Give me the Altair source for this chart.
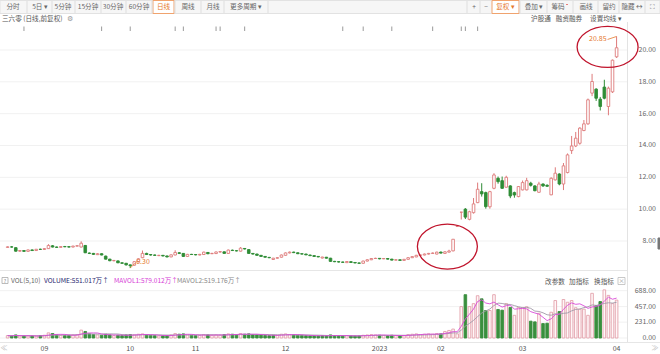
import altair as alt
import pandas as pd

# ---------------- data ----------------
opens = [7.60, 7.63, 7.58, 7.36, 7.40, 7.35, 7.44, 7.40, 7.48, 7.47,
         7.52, 7.70, 7.62, 7.60, 7.65, 7.64, 7.62, 7.68, 7.62, 7.72,
         7.24, 7.22, 7.14, 7.20, 7.05, 6.86, 6.76, 6.75, 6.63, 6.60,
         6.50, 6.48, 6.70, 6.95, 7.22, 7.15, 7.12, 7.08, 7.10, 7.06,
         7.00, 7.12, 7.26, 7.22, 7.03, 7.16, 7.15, 7.12, 7.15, 7.28,
         7.20, 7.21, 7.31, 7.32, 7.22, 7.42, 7.39, 7.36, 7.53, 7.46,
         7.22, 7.18, 7.10, 7.03, 6.97, 6.84, 6.92, 6.98, 7.10, 7.25,
         7.30, 7.26, 7.20, 7.18, 7.12, 7.08, 7.03, 6.93, 6.98, 6.92,
         6.72, 6.70, 6.68, 6.64, 6.70, 6.65, 6.62, 6.60, 6.74, 6.82,
         6.90, 6.91, 6.88, 6.90, 6.86, 6.80, 6.82, 6.78, 6.85, 6.95,
         7.00, 7.10, 7.12, 7.18, 7.22, 7.18, 7.30, 7.22, 7.30, 7.38,
         8.92, 9.81, 10.00, 9.36, 9.78, 10.41, 11.10, 11.04, 10.15, 11.31,
         11.94, 11.79, 11.38, 11.46, 11.04, 10.79, 11.21, 11.21, 11.63, 11.46,
         11.06, 11.58, 11.50, 10.90, 11.84, 12.21, 11.58, 12.30, 13.68, 13.97,
         14.14, 14.94, 15.36, 17.29, 17.54, 16.91, 17.67, 16.45, 17.37, 19.57]
closes = [7.63, 7.62, 7.36, 7.40, 7.35, 7.44, 7.40, 7.48, 7.47, 7.52,
          7.72, 7.62, 7.60, 7.65, 7.64, 7.62, 7.68, 7.70, 7.86, 7.26,
          7.22, 7.16, 7.20, 7.12, 6.86, 6.76, 6.78, 6.63, 6.60, 6.50,
          6.45, 6.70, 6.88, 7.22, 7.15, 7.12, 7.10, 7.10, 7.06, 7.00,
          7.13, 7.28, 7.22, 7.03, 7.16, 7.15, 7.13, 7.16, 7.30, 7.20,
          7.22, 7.31, 7.33, 7.22, 7.43, 7.40, 7.38, 7.55, 7.50, 7.22,
          7.18, 7.10, 7.03, 6.98, 6.95, 6.92, 6.95, 7.12, 7.25, 7.30,
          7.27, 7.20, 7.18, 7.13, 7.08, 7.03, 7.00, 6.99, 6.92, 6.72,
          6.70, 6.68, 6.66, 6.71, 6.65, 6.62, 6.60, 6.74, 6.82, 6.90,
          6.91, 6.88, 6.90, 6.86, 6.80, 6.82, 6.78, 6.85, 6.95, 7.02,
          7.10, 7.12, 7.18, 7.22, 7.24, 7.30, 7.24, 7.32, 7.37, 8.11,
          8.92, 9.81, 9.50, 9.84, 10.33, 11.25, 10.96, 10.16, 11.10, 12.15,
          11.73, 11.31, 12.00, 10.83, 10.89, 11.42, 11.67, 11.79, 11.50, 11.16,
          11.58, 11.46, 11.44, 11.94, 12.26, 11.58, 12.72, 13.41, 13.97, 14.46,
          15.09, 15.36, 16.87, 18.02, 16.97, 16.45, 16.97, 17.60, 19.36, 20.14]
highs = [7.66, 7.68, 7.60, 7.43, 7.42, 7.46, 7.47, 7.50, 7.52, 7.55,
         7.80, 7.74, 7.65, 7.67, 7.69, 7.67, 7.70, 7.74, 7.98, 7.75,
         7.28, 7.25, 7.24, 7.22, 7.08, 6.88, 6.80, 6.77, 6.65, 6.62,
         6.52, 6.72, 6.92, 7.40, 7.26, 7.18, 7.15, 7.13, 7.12, 7.08,
         7.16, 7.42, 7.30, 7.24, 7.19, 7.19, 7.18, 7.19, 7.33, 7.30,
         7.26, 7.34, 7.36, 7.34, 7.46, 7.46, 7.42, 7.62, 7.56, 7.48,
         7.24, 7.20, 7.12, 7.05, 7.00, 6.94, 6.98, 7.15, 7.28, 7.34,
         7.33, 7.28, 7.22, 7.20, 7.14, 7.10, 7.05, 7.01, 7.00, 6.94,
         6.75, 6.73, 6.70, 6.73, 6.72, 6.67, 6.64, 6.76, 6.85, 6.93,
         6.95, 6.93, 6.93, 6.92, 6.88, 6.85, 6.84, 6.87, 6.98, 7.05,
         7.13, 7.15, 7.21, 7.25, 7.28, 7.33, 7.34, 7.36, 7.45, 8.11,
         8.92, 9.81, 10.07, 9.90, 10.70, 11.67, 11.63, 11.10, 11.15, 12.26,
         12.05, 12.05, 12.10, 11.50, 11.10, 11.45, 11.80, 11.97, 11.72, 11.50,
         11.72, 11.62, 11.56, 12.00, 12.63, 12.25, 12.90, 13.50, 14.60, 14.85,
         15.15, 15.60, 16.95, 18.50, 17.60, 17.05, 18.13, 17.70, 19.40, 20.85]
lows = [7.58, 7.58, 7.33, 7.32, 7.31, 7.33, 7.37, 7.38, 7.44, 7.45,
        7.50, 7.60, 7.56, 7.58, 7.61, 7.59, 7.60, 7.66, 7.60, 7.24,
        7.18, 7.13, 7.12, 7.10, 6.84, 6.73, 6.72, 6.61, 6.57, 6.46,
        6.30, 6.45, 6.66, 6.92, 7.12, 7.08, 7.06, 7.05, 7.03, 6.97,
        6.98, 7.10, 7.18, 7.00, 7.01, 7.12, 7.10, 7.10, 7.13, 7.17,
        7.18, 7.19, 7.27, 7.20, 7.20, 7.37, 7.35, 7.34, 7.47, 7.20,
        7.15, 7.08, 7.01, 6.96, 6.92, 6.82, 6.90, 6.96, 7.08, 7.22,
        7.24, 7.18, 7.15, 7.11, 7.05, 7.00, 6.98, 6.90, 6.90, 6.70,
        6.67, 6.65, 6.63, 6.62, 6.63, 6.60, 6.57, 6.58, 6.72, 6.80,
        6.87, 6.85, 6.86, 6.84, 6.78, 6.78, 6.76, 6.76, 6.83, 6.93,
        6.98, 7.07, 7.10, 7.15, 7.20, 7.16, 7.22, 7.20, 7.28, 7.35,
        8.92, 9.35, 9.38, 9.30, 9.72, 10.38, 10.79, 10.03, 10.03, 11.25,
        11.60, 11.28, 11.35, 10.69, 10.72, 10.75, 11.18, 11.18, 11.42, 11.12,
        11.03, 11.40, 11.40, 10.88, 11.80, 11.50, 11.20, 12.25, 13.47, 13.90,
        14.05, 14.90, 15.30, 17.10, 16.80, 16.20, 16.90, 15.90, 17.30, 19.50]
volumes = [35, 30, 45, 30, 28, 32, 30, 28, 35, 40,
           75, 65, 45, 40, 35, 38, 45, 50, 115, 95,
           60, 50, 45, 40, 55, 45, 35, 40, 35, 45,
           50, 45, 55, 60, 45, 40, 35, 30, 32, 35,
           45, 65, 55, 60, 45, 40, 35, 38, 50, 45,
           40, 45, 42, 50, 60, 55, 45, 65, 55, 60,
           50, 45, 42, 38, 35, 40, 38, 55, 60, 50,
           45, 40, 38, 35, 32, 30, 30, 35, 32, 45,
           35, 32, 30, 35, 30, 28, 30, 40, 45, 50,
           45, 40, 38, 35, 40, 35, 32, 35, 50, 55,
           60, 50, 55, 60, 55, 65, 60, 95, 110, 130,
           60, 457, 630, 457, 500, 615, 570, 400, 400, 630,
           415, 405, 500, 445, 330, 445, 440, 455, 245, 235,
           360, 210, 215, 375, 545, 385, 560, 520, 545, 440,
           420, 420, 330, 650, 470, 530, 700, 620, 500, 551.017]

month_labels = ["09", "10", "11", "12", "2023", "02", "03", "04"]
month_index = [9, 30, 46, 68, 91, 106, 126, 149]
price_ticks = [8, 10, 12, 14, 16, 18, 20]
vol_ticks = [0, 231, 457, 688]
event_index = [4, 23, 30, 41, 43, 51, 52, 58, 82, 87, 94, 104, 111, 112, 115]
low_point = {"i": [30], "price": [6.30], "label": ["6.30"]}
high_point = {"i": [149], "price": [20.85], "label": ["20.85"]}
ellipse_top = {"i": [146.8], "price": [20.19]}
ellipse_jan = {"i": [107.6], "price": [7.65]}

# ---------------- layout / style ----------------
W, H = 660, 354
X0, DX = 2.65, 4.15
FONT = "Noto Sans CJK SC"
RED = "#de7a7a"
GREEN = "#2f8c36"
VRED = "#e3a2ab"
VGREEN = "#3a8f3e"
ORANGE = "#e5782c"
ELL = "#c0142c"
MAG = "#d84bd8"
GREYLINE = "#a29aa8"

n = len(closes)
prev_close = [opens[0]] + closes[:-1]
df = pd.DataFrame({
    "i": list(range(n)), "open": opens, "close": closes,
    "high": highs, "low": lows, "volume": volumes,
    "dir": ["up" if c >= o else "down" for o, c in zip(opens, closes)],
    "vdir": ["up" if c >= p else "down" for c, p in zip(closes, prev_close)],
})

xs = alt.Scale(domain=[-X0 / DX, (W - X0) / DX], range=[0, W], nice=False, zero=False)
ps = alt.Scale(domain=[6, 21.5], range=[272.83, 26.12], nice=False, zero=False)
vs = alt.Scale(domain=[0, 700], range=[338, 289.875], nice=False, zero=False)
X = alt.X("i:Q", scale=xs, axis=None)
DIRS = ["up", "down"]

ONE = pd.DataFrame({"a": [0]})


def txt(t, x, y, color="#555555", size=7, align="center", weight="normal"):
    return alt.Chart(ONE).mark_text(align=align, baseline="middle", fontSize=size, font=FONT,
                                    color=color, fontWeight=weight).encode(
        x=alt.value(x), y=alt.value(y), text=alt.value(t))


def box(x1, y1, x2, y2, fill, stroke, sw=1):
    return alt.Chart(ONE).mark_rect(fill=fill, stroke=stroke, strokeWidth=sw).encode(
        x=alt.value(x1), x2=alt.value(x2), y=alt.value(y1), y2=alt.value(y2))


def seg(x1, y1, x2, y2, color, w=1):
    return alt.Chart(ONE).mark_rule(color=color, strokeWidth=w).encode(
        x=alt.value(x1), x2=alt.value(x2), y=alt.value(y1), y2=alt.value(y2))


def ellipse_path(k):
    c = 0.5523
    return (f"M -1 0 C -1 {-c*k:.4f} {-c:.4f} {-k:.4f} 0 {-k:.4f} "
            f"C {c:.4f} {-k:.4f} 1 {-c*k:.4f} 1 0 "
            f"C 1 {c*k:.4f} {c:.4f} {k:.4f} 0 {k:.4f} "
            f"C {-c:.4f} {k:.4f} -1 {c*k:.4f} -1 0 Z")


# ---------------- UI chrome ----------------
ui_back = [
    box(0, 0.5, 660, 13.5, "#f6f6f6", "#e2e2e2"),
    box(153, 0.5, 174, 13.5, "#ffffff", "#f0a36e"),
    box(492, 0.5, 519, 13.5, "#ffffff", "#f0a36e"),
]
for xd in [27, 52, 75, 101, 126, 152, 175, 201, 224, 268, 467, 480, 520, 547, 573, 598, 619, 645]:
    ui_back.append(seg(xd, 1, xd, 13, "#dedede"))
ui_back += [
    seg(0, 270.5, 627, 270.5, "#e6e6e6"),
    seg(627.5, 22, 627.5, 343, "#e3e3e3"),
    seg(0, 342.5, 660, 342.5, "#e6e6e6"),
    box(658, 238, 660, 249, "#777777", "#777777"),
]
tool_left = [("分时", 13), ("5日 ▾", 40), ("5分钟", 63), ("15分钟", 88), ("30分钟", 113),
             ("60分钟", 139), ("周线", 188), ("月线", 213), ("更多周期 ▾", 246)]
tool_right = [("+", 474), ("−", 486), ("叠加 ▾", 534), ("筹码", 558), ("画线", 586),
              ("留约", 609), ("隐藏 ↔", 632), ("⛶", 652)]
ui_text = [txt(t, x, 7, "#666666", 6.6) for t, x in tool_left + tool_right]
ui_text += [
    txt("日线", 163.5, 7, ORANGE, 6.6),
    txt("复权 ▾", 505.5, 7, ORANGE, 6.6),
    seg(567, 4, 567, 4.8, "#e0302a", 1.6),
    txt("三六零 (日线,前复权)", 2, 18.5, "#555555", 6.6, "left"),
    txt("⚙", 70, 18.5, "#999999", 7),
    txt("沪股通", 541, 18.5, "#555555", 6.6),
    txt("融资融券", 569, 18.5, "#555555", 6.6),
    txt("设置均线 ▾", 606, 18.5, "#555555", 6.6),
    box(2, 277.5, 8, 283.5, "#ffffff", "#aaaaaa", 0.8),
    txt("?", 5, 280.5, "#888888", 5),
    txt("VOL(5,10)", 11, 280.5, "#666666", 6.6, "left"),
    txt("VOLUME:551.017万↑", 44, 280.5, "#26266e", 6.6, "left"),
    txt("MAVOL1:579.012万↑", 114, 280.5, "#d63cd6", 6.6, "left"),
    txt("MAVOL2:519.176万↑", 177, 280.5, "#888888", 6.6, "left"),
    txt("改参数", 555, 281.5, "#555555", 6.6),
    txt("加指标", 579, 281.5, "#555555", 6.6),
    txt("换指标", 604, 281.5, "#555555", 6.6),
    box(618, 277.5, 625, 284.5, "#ffffff", "#bbbbbb", 0.8),
    txt("×", 621.5, 281, "#999999", 6),
    txt("≪", 4, 348, "#bbbbbb", 7),
    txt("≫", 655, 348, "#bbbbbb", 7),
]

# ---------------- price panel ----------------
pt = pd.DataFrame({"v": price_ticks})
price_grid = alt.Chart(pt).mark_rule(stroke="#f1f1f1", strokeWidth=1).encode(
    y=alt.Y("v:Q", scale=ps, axis=None), x=alt.value(0), x2=alt.value(627))
price_lab = alt.Chart(pt).mark_text(align="right", baseline="middle", fontSize=7, font=FONT,
                                    color="#666666").encode(
    y=alt.Y("v:Q", scale=ps, axis=None), x=alt.value(656), text=alt.Text("v:Q", format=".2f"))
wicks = alt.Chart(df).mark_rule(strokeWidth=1).encode(
    x=X, y=alt.Y("low:Q", scale=ps, axis=None), y2="high:Q",
    stroke=alt.Stroke("dir:N", scale=alt.Scale(domain=DIRS, range=[RED, GREEN]), legend=None))
bodies = alt.Chart(df).mark_bar(size=2.6, strokeWidth=0.9).encode(
    x=X, y=alt.Y("open:Q", scale=ps, axis=None), y2="close:Q",
    fill=alt.Fill("dir:N", scale=alt.Scale(domain=DIRS, range=["#ffffff", GREEN]), legend=None),
    stroke=alt.Stroke("dir:N", scale=alt.Scale(domain=DIRS, range=[RED, GREEN]), legend=None))
events = alt.Chart(pd.DataFrame({"i": event_index})).mark_rule(color="#9a9a9a", strokeWidth=1).encode(
    x=X, y=alt.value(26.5), y2=alt.value(31))

lp = pd.DataFrame(low_point)
hp = pd.DataFrame(high_point)
low_lead = alt.Chart(lp).mark_rule(color=ORANGE, strokeWidth=0.8, x2Offset=5, y2Offset=-5).encode(
    x=X, x2="i:Q", y=alt.Y("price:Q", scale=ps, axis=None), y2="price:Q")
low_txt = alt.Chart(lp).mark_text(align="left", baseline="middle", fontSize=7, font=FONT,
                                  color=ORANGE, dx=6, dy=-6).encode(
    x=X, y=alt.Y("price:Q", scale=ps, axis=None), text="label:N")
high_lead = alt.Chart(hp).mark_rule(color=ORANGE, strokeWidth=0.8, x2Offset=-9, y2Offset=3).encode(
    x=X, x2="i:Q", y=alt.Y("price:Q", scale=ps, axis=None), y2="price:Q")
high_txt = alt.Chart(hp).mark_text(align="right", baseline="middle", fontSize=7, font=FONT,
                                   color=ORANGE, dx=-10, dy=3).encode(
    x=X, y=alt.Y("price:Q", scale=ps, axis=None), text="label:N")
ell1 = alt.Chart(pd.DataFrame(ellipse_top)).mark_point(
    shape=ellipse_path(0.672), size=61 * 61, filled=False, stroke=ELL, strokeWidth=1.3, opacity=1).encode(
    x=X, y=alt.Y("price:Q", scale=ps, axis=None))
ell2 = alt.Chart(pd.DataFrame(ellipse_jan)).mark_point(
    shape=ellipse_path(0.75), size=60 * 60, filled=False, stroke=ELL, strokeWidth=1.3, opacity=1).encode(
    x=X, y=alt.Y("price:Q", scale=ps, axis=None))

price_panel = alt.layer(price_grid, price_lab, wicks, bodies, low_lead, low_txt,
                        high_lead, high_txt, ell1, ell2)

# ---------------- volume panel ----------------
vt = pd.DataFrame({"v": vol_ticks})
vol_grid = alt.Chart(vt).mark_rule(stroke="#f1f1f1", strokeWidth=1).encode(
    y=alt.Y("v:Q", scale=vs, axis=None), x=alt.value(0), x2=alt.value(627))
vol_lab = alt.Chart(vt).mark_text(align="right", baseline="middle", fontSize=7, font=FONT,
                                  color="#666666").encode(
    y=alt.Y("v:Q", scale=vs, axis=None), x=alt.value(656), text=alt.Text("v:Q", format=".2f"))
vol_bars = alt.Chart(df).mark_bar(size=2.6, strokeWidth=0.9).encode(
    x=X, y=alt.Y("volume:Q", scale=vs, axis=None), y2=alt.datum(0),
    fill=alt.Fill("vdir:N", scale=alt.Scale(domain=DIRS, range=["#fff7f8", VGREEN]), legend=None),
    stroke=alt.Stroke("vdir:N", scale=alt.Scale(domain=DIRS, range=[VRED, VGREEN]), legend=None))
ma_base = alt.Chart(df).transform_window(
    ma5="mean(volume)", frame=[-4, 0], sort=[alt.SortField("i")]).transform_window(
    ma10="mean(volume)", frame=[-9, 0], sort=[alt.SortField("i")])
ma5 = ma_base.mark_line(strokeWidth=0.9, color=MAG).encode(x=X, y=alt.Y("ma5:Q", scale=vs, axis=None))
ma10 = ma_base.mark_line(strokeWidth=0.9, color=GREYLINE).encode(x=X, y=alt.Y("ma10:Q", scale=vs, axis=None))
vol_panel = alt.layer(vol_grid, vol_lab, vol_bars, ma10, ma5)

months = alt.Chart(pd.DataFrame({"i": month_index, "label": month_labels})).mark_text(
    baseline="middle", fontSize=7, font=FONT, color="#555555").encode(
    x=X, y=alt.value(348.5), text="label:N")

chart = alt.layer(*ui_back, price_panel, vol_panel, events, months, *ui_text).resolve_scale(
    y="independent", fill="independent", stroke="independent"
).properties(
    width=W, height=H, padding=0, autosize=alt.AutoSizeParams(type="none"), background="white"
).configure_view(strokeWidth=0)

chart.save("out.html", embed_options={"renderer": "svg", "actions": False})
